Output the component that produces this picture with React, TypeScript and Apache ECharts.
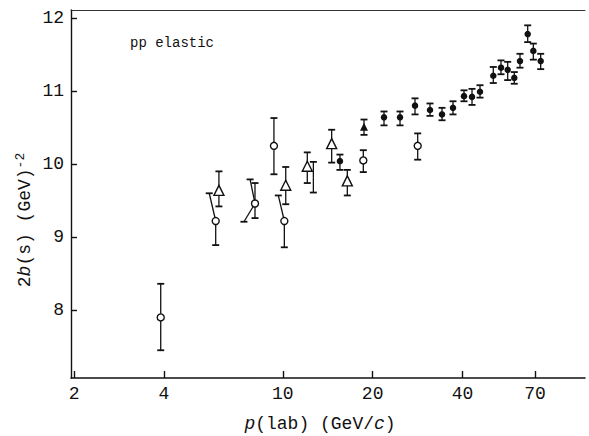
import React, { useEffect, useRef } from "react";
import * as echarts from "echarts";

// ---- axis ticks ----
const xTickValues = [2, 4, 10, 20, 40, 70];
const yTickValues = [8, 9, 10, 11, 12];

// ---- open circles ----
const openCircleP = [3.9, 5.96, 8.07, 10.12, 9.34, 18.61, 28.31];
const openCircleVal = [7.9, 9.22, 9.46, 9.22, 10.25, 10.05, 10.25];
const openCircleLo = [7.45, 8.89, 9.26, 8.86, 9.86, 9.89, 10.06];
const openCircleHi = [8.36, 9.6, 9.74, 9.57, 10.63, 10.19, 10.42];
const openCirclePHi = [3.9, 5.67, 8.07, 9.66, 9.34, 18.61, 28.31];

// ---- open triangles ----
const triP = [6.11, 10.23, 12.08, 14.58, 16.45];
const triVal = [9.64, 9.71, 9.97, 10.28, 9.77];
const triLo = [9.42, 9.45, 9.74, 10.02, 9.57];
const triHi = [9.9, 9.96, 10.16, 10.47, 9.92];

// ---- filled dots ----
const dotP = [15.54, 21.83, 24.7, 27.73, 31.13, 34.15, 37.17, 40.46, 43.04, 45.78, 50.72, 53.83, 56.68, 59.64, 62.32, 66.14, 69.07, 73.11];
const dotVal = [10.04, 10.64, 10.64, 10.8, 10.74, 10.68, 10.77, 10.93, 10.92, 10.99, 11.21, 11.32, 11.29, 11.18, 11.41, 11.78, 11.55, 11.41];
const dotLo = [9.92, 10.53, 10.53, 10.68, 10.66, 10.6, 10.68, 10.86, 10.81, 10.91, 11.11, 11.23, 11.15, 11.1, 11.32, 11.67, 11.43, 11.3];
const dotHi = [10.13, 10.72, 10.72, 10.9, 10.83, 10.77, 10.86, 11.01, 11.03, 11.08, 11.33, 11.42, 11.4, 11.26, 11.51, 11.9, 11.65, 11.51];

// ---- filled triangle ----
const ftriP = [18.71];
const ftriVal = [10.51];
const ftriLo = [10.4];
const ftriHi = [10.61];

// ---- extra error bars without a marker: p, centre, lo, hi, pHi, pLo ----
const extraBarP = [8.07, 12.66];
const extraBarVal = [9.46, 9.82];
const extraBarLo = [9.21, 9.61];
const extraBarHi = [9.79, 10.03];
const extraBarPHi = [7.77, 12.66];
const extraBarPLo = [7.41, 12.66];

const X_MIN = 1.952;
const X_MAX = 102.9;
const Y_MIN = 7.07;
const Y_MAX = 12.11;

const lg = (v: number) => Math.log10(v);
const MONO = '"Liberation Mono", "DejaVu Sans Mono", monospace';

function bars(p: number[], val: number[], lo: number[], hi: number[], pHi?: number[], pLo?: number[]) {
  return p.map((pv, i) => [
    lg(pv),
    val[i],
    lo[i],
    hi[i],
    lg(pHi ? pHi[i] : pv),
    lg(pLo ? pLo[i] : pv),
  ]);
}

function points(p: number[], val: number[]) {
  return p.map((pv, i) => [lg(pv), val[i]]);
}

export default function App() {
  const ref = useRef<HTMLDivElement>(null);
  useEffect(() => {
    const chart = echarts.init(ref.current!, null, { renderer: "svg" });
    const barData = [
      ...bars(openCircleP, openCircleVal, openCircleLo, openCircleHi, openCirclePHi),
      ...bars(triP, triVal, triLo, triHi),
      ...bars(dotP, dotVal, dotLo, dotHi),
      ...bars(ftriP, ftriVal, ftriLo, ftriHi),
      ...bars(extraBarP, extraBarVal, extraBarLo, extraBarHi, extraBarPHi, extraBarPLo),
    ];
    const ink = "#111";
    const option: any = {
      animation: false,
      backgroundColor: "#fff",
      grid: { left: 71, right: 4, top: 10, bottom: 58 },
      xAxis: [
        {
          type: "value",
          position: "bottom",
          min: lg(X_MIN),
          max: lg(X_MAX),
          axisLine: { show: true, lineStyle: { color: ink, width: 1.6 } },
          axisTick: {
            show: true,
            inside: true,
            length: 7,
            customValues: xTickValues.map(lg),
            lineStyle: { color: ink, width: 1.4 },
          },
          axisLabel: {
            customValues: xTickValues.map(lg),
            formatter: (v: number) => String(Math.round(Math.pow(10, v))),
            fontFamily: MONO,
            fontSize: 18,
            color: ink,
            margin: 7,
          },
          splitLine: { show: false },
        },
        {
          type: "value",
          position: "top",
          min: lg(X_MIN),
          max: lg(X_MAX),
          axisLine: { show: true, lineStyle: { color: "#333", width: 1 } },
          axisTick: { show: false },
          axisLabel: { show: false },
          splitLine: { show: false },
        },
      ],
      yAxis: {
        type: "value",
        min: Y_MIN,
        max: Y_MAX,
        axisLine: { show: true, lineStyle: { color: ink, width: 1.4 } },
        axisTick: {
          show: true,
          inside: true,
          length: 6,
          customValues: yTickValues,
          lineStyle: { color: ink, width: 1.4 },
        },
        axisLabel: {
          customValues: yTickValues,
          fontFamily: MONO,
          fontSize: 18,
          color: ink,
          margin: 7,
        },
        splitLine: { show: false },
      },
      series: [
        {
          type: "custom",
          z: 2,
          data: barData,
          encode: { x: [0, 4, 5], y: [1, 2, 3] },
          renderItem: (params: any, api: any) => {
            const c = api.coord([api.value(0), api.value(1)]);
            const top = api.coord([api.value(4), api.value(3)]);
            const bot = api.coord([api.value(5), api.value(2)]);
            const w = 3.5;
            const st = { stroke: ink, lineWidth: 1.3 };
            const cap = { stroke: ink, lineWidth: 1.8 };
            return {
              type: "group",
              children: [
                { type: "line", shape: { x1: c[0], y1: c[1], x2: top[0], y2: top[1] }, style: st },
                { type: "line", shape: { x1: c[0], y1: c[1], x2: bot[0], y2: bot[1] }, style: st },
                { type: "line", shape: { x1: top[0] - w, y1: top[1], x2: top[0] + w, y2: top[1] }, style: cap },
                { type: "line", shape: { x1: bot[0] - w, y1: bot[1], x2: bot[0] + w, y2: bot[1] }, style: cap },
              ],
            };
          },
        },
        {
          type: "scatter",
          z: 3,
          symbol: "circle",
          symbolSize: 7,
          itemStyle: { color: "#fff", borderColor: ink, borderWidth: 1.4, opacity: 1 },
          data: points(openCircleP, openCircleVal),
        },
        {
          type: "scatter",
          z: 3,
          symbol: "triangle",
          symbolSize: [10, 10],
          itemStyle: { color: "#fff", borderColor: ink, borderWidth: 1.4, opacity: 1 },
          data: points(triP, triVal),
        },
        {
          type: "scatter",
          z: 3,
          symbol: "circle",
          symbolSize: 6.5,
          itemStyle: { color: ink, opacity: 1 },
          data: points(dotP, dotVal),
        },
        {
          type: "scatter",
          z: 3,
          symbol: "triangle",
          symbolSize: [8, 8],
          itemStyle: { color: ink, opacity: 1 },
          data: points(ftriP, ftriVal),
        },
      ],
      graphic: [
        {
          type: "text",
          x: 130,
          y: 43,
          style: {
            text: "pp elastic",
            font: `14px ${MONO}`,
            fill: ink,
            textAlign: "left",
            textVerticalAlign: "middle",
            verticalAlign: "middle",
          },
        },
        {
          type: "text",
          x: 320,
          y: 424,
          style: {
            text: "{i|p}(lab) (GeV/{i|c})",
            font: `18px ${MONO}`,
            fill: ink,
            align: "center",
            textAlign: "center",
            verticalAlign: "middle",
            rich: {
              i: { fontStyle: "italic", fontFamily: MONO, fontSize: 18, fill: ink },
            },
          },
        },
        {
          type: "text",
          x: 25,
          y: 220,
          rotation: Math.PI / 2,
          style: {
            text: "2{i|b}(s) (GeV){s|-2}",
            font: `18px ${MONO}`,
            fill: ink,
            align: "center",
            textAlign: "center",
            verticalAlign: "middle",
            rich: {
              i: { fontStyle: "italic", fontFamily: MONO, fontSize: 18, fill: ink },
              s: { fontFamily: MONO, fontSize: 13, fill: ink, verticalAlign: "top", padding: [0, 0, 10, 0] },
            },
          },
        },
      ],
    };
    chart.setOption(option);
    return () => chart.dispose();
  }, []);
  return (
    <div
      ref={ref}
      style={{ position: "absolute", left: 0, top: 0, width: 589, height: 436, background: "#fff" }}
    />
  );
}
